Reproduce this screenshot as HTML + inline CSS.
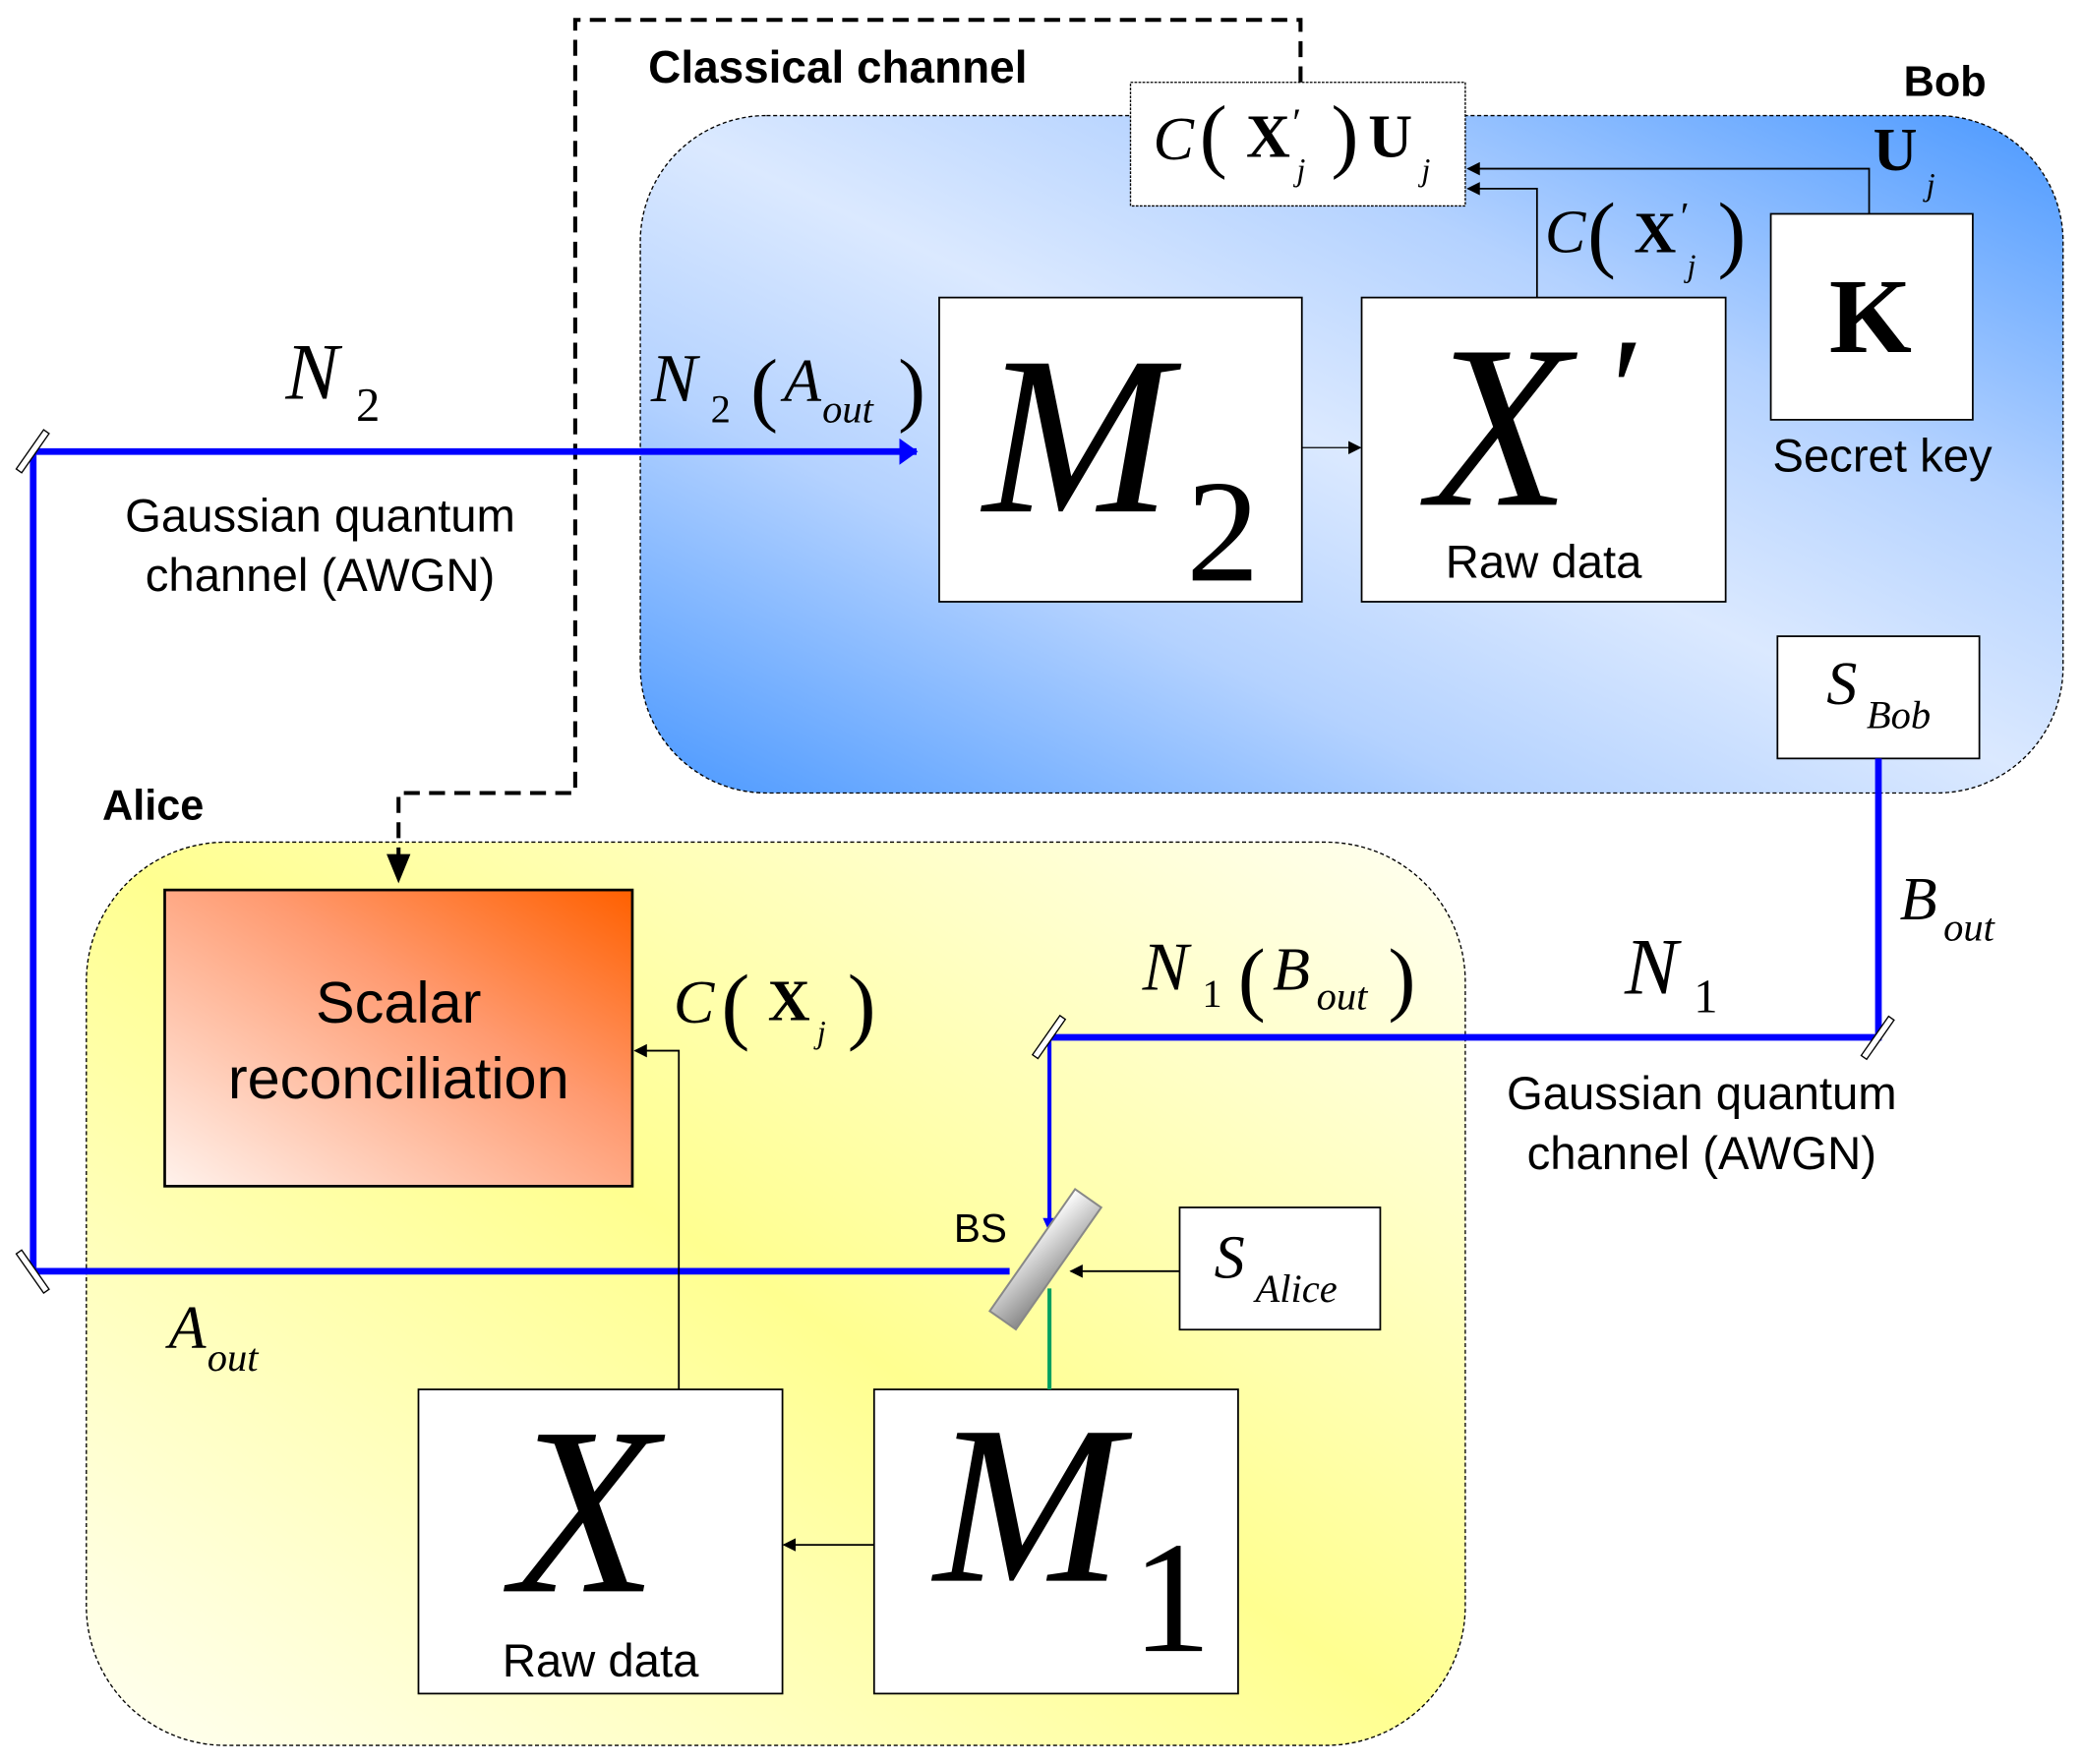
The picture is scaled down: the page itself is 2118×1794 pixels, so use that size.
<!DOCTYPE html>
<html><head><meta charset="utf-8"><style>html,body{margin:0;padding:0;background:#fff}svg{display:block}</style></head><body>
<svg width="2118" height="1794" viewBox="0 0 1568 1328" preserveAspectRatio="none" xmlns="http://www.w3.org/2000/svg">
<defs>
<linearGradient id="gb" x1="0" y1="1" x2="1" y2="0">
<stop offset="0" stop-color="#4a98ff"/><stop offset="0.3" stop-color="#b4d2ff"/><stop offset="0.5" stop-color="#dbe9ff"/><stop offset="0.7" stop-color="#b4d2ff"/><stop offset="1" stop-color="#4a98ff"/></linearGradient>
<linearGradient id="gy" x1="0" y1="1" x2="1" y2="0">
<stop offset="0" stop-color="#fffff2"/><stop offset="0.5" stop-color="#ffff90"/><stop offset="1" stop-color="#fffff2"/></linearGradient>
<linearGradient id="go" x1="0" y1="1" x2="1" y2="0">
<stop offset="0" stop-color="#fff2ec"/><stop offset="0.6" stop-color="#ff9a70"/><stop offset="1" stop-color="#ff6000"/></linearGradient>
<linearGradient id="gs" x1="0" y1="0" x2="1" y2="1"><stop offset="0" stop-color="#fff"/><stop offset="1" stop-color="#888"/></linearGradient>
<marker id="ab" markerWidth="10" markerHeight="10" refX="9" refY="5" orient="auto" markerUnits="userSpaceOnUse"><path d="M0,0 L10,5 L0,10 z" fill="#000"/></marker>
<marker id="ablue" markerWidth="14" markerHeight="20" refX="13" refY="10" orient="auto" markerUnits="userSpaceOnUse"><path d="M0,0 L14,10 L0,20 z" fill="#0000ff"/></marker>
</defs>
<g font-family="Liberation Sans, sans-serif">
<rect x="482" y="87" width="1071" height="510" rx="95" fill="url(#gb)" stroke="#000" stroke-width="1" stroke-dasharray="3,2"/>
<rect x="65" y="634" width="1038" height="680" rx="105" fill="url(#gy)" stroke="#000" stroke-width="1" stroke-dasharray="3,2"/>

<path d="M979,62 V15 H433 V597 H300 V660" fill="none" stroke="#000" stroke-width="3" stroke-dasharray="12,7"/>
<path d="M291,643 L309,643 L300,665 z" fill="#000"/>

<text x="488" y="62" font-size="34" font-weight="bold">Classical channel</text>
<text x="1433" y="72" font-size="32" font-weight="bold">Bob</text>
<text x="77" y="617" font-size="32" font-weight="bold">Alice</text>

<rect x="851" y="62" width="252" height="93" fill="#fff" stroke="#000" stroke-width="1" stroke-dasharray="2,1"/>
<g font-family="Liberation Serif, serif" font-size="46">
<text x="868" y="120" font-style="italic">C</text>
<text x="903" y="122" font-size="62" font-weight="200">(</text>
<text x="938" y="118" font-weight="bold">X</text><text x="973" y="102" font-size="30">′</text><text x="976" y="136" font-size="24" font-style="italic">j</text>
<text x="1002" y="122" font-size="62">)</text>
<text x="1030" y="118" font-weight="bold">U</text><text x="1070" y="136" font-size="24" font-style="italic">j</text>
</g>

<path d="M1407,161 V127 H1105" fill="none" stroke="#000" stroke-width="1.3" marker-end="url(#ab)"/>
<path d="M1157,224 V142 H1105" fill="none" stroke="#000" stroke-width="1.3" marker-end="url(#ab)"/>
<g font-family="Liberation Serif, serif">
<text x="1410" y="128" font-size="46" font-weight="bold">U</text><text x="1450" y="147" font-size="24" font-style="italic">j</text>
<text x="1163" y="190" font-size="46" font-style="italic">C</text>
<text x="1195" y="197" font-size="64">(</text>
<text x="1230" y="190" font-size="44" font-weight="bold">X</text><text x="1265" y="173" font-size="30">′</text><text x="1270" y="208" font-size="24" font-style="italic">j</text>
<text x="1293" y="197" font-size="64">)</text>
</g>

<rect x="707" y="224" width="273" height="229" fill="#fff" stroke="#000" stroke-width="1.3"/>
<rect x="1025" y="224" width="274" height="229" fill="#fff" stroke="#000" stroke-width="1.3"/>
<rect x="1333" y="161" width="152" height="155" fill="#fff" stroke="#000" stroke-width="1.3"/>
<rect x="1338" y="479" width="152" height="92" fill="#fff" stroke="#000" stroke-width="1.3"/>
<rect x="888" y="909" width="151" height="92" fill="#fff" stroke="#000" stroke-width="1.3"/>
<rect x="124" y="670" width="352" height="223" fill="url(#go)" stroke="#000" stroke-width="2"/>
<rect x="315" y="1046" width="274" height="229" fill="#fff" stroke="#000" stroke-width="1.3"/>
<rect x="658" y="1046" width="274" height="229" fill="#fff" stroke="#000" stroke-width="1.3"/>
<line x1="980" y1="337" x2="1024" y2="337" stroke="#000" stroke-width="1" marker-end="url(#ab)"/>

<g font-family="Liberation Serif, serif" font-style="italic">
<text x="740" y="385" font-size="170">M</text>
<text x="893" y="437" font-size="110" font-style="normal">2</text>
<text x="1075" y="380" font-size="175">X</text>
<text x="1213" y="330" font-size="110" font-style="normal">′</text>
<text x="1375" y="530" font-size="46">S</text><text x="1405" y="548" font-size="30">Bob</text>
<text x="1430" y="692" font-size="46">B</text><text x="1463" y="708" font-size="30">out</text>
<text x="1223" y="748" font-size="60">N</text><text x="1275" y="762" font-size="36" font-style="normal">1</text>
<text x="860" y="745" font-size="52">N</text><text x="905" y="758" font-size="30" font-style="normal">1</text>
<text x="932" y="757" font-size="62" font-style="normal">(</text>
<text x="958" y="745" font-size="46">B</text><text x="991" y="760" font-size="30">out</text>
<text x="1045" y="757" font-size="62" font-style="normal">)</text>
<text x="215" y="300" font-size="60">N</text><text x="268" y="317" font-size="36" font-style="normal">2</text>
<text x="490" y="302" font-size="52">N</text><text x="535" y="318" font-size="30" font-style="normal">2</text>
<text x="565" y="313" font-size="62" font-style="normal">(</text>
<text x="590" y="302" font-size="46">A</text><text x="619" y="318" font-size="30">out</text>
<text x="676" y="313" font-size="62" font-style="normal">)</text>
<text x="507" y="770" font-size="46">C</text>
<text x="543" y="778" font-size="64" font-style="normal">(</text>
<text x="578" y="768" font-size="44" font-style="normal" font-weight="bold">X</text><text x="615" y="785" font-size="24">j</text>
<text x="638" y="778" font-size="64" font-style="normal">)</text>
<text x="914" y="962" font-size="46">S</text><text x="945" y="980" font-size="30">Alice</text>
<text x="127" y="1015" font-size="46">A</text><text x="156" y="1032" font-size="30">out</text>
<text x="385" y="1198" font-size="180">X</text>
<text x="703" y="1190" font-size="170">M</text>
</g>
<text x="852" y="1243" font-family="Liberation Serif, serif" font-size="120">1</text>
<text x="1408" y="265" font-family="Liberation Serif, serif" font-size="80" font-weight="bold" text-anchor="middle">K</text>

<g font-size="35" text-anchor="middle">
<text x="1417" y="355">Secret key</text>
<text x="1162" y="435">Raw data</text>
<text x="241" y="400">Gaussian quantum</text>
<text x="241" y="445">channel (AWGN)</text>
<text x="1281" y="835">Gaussian quantum</text>
<text x="1281" y="880">channel (AWGN)</text>
<text x="452" y="1262">Raw data</text>
<text x="300" y="770" font-size="44">Scalar</text>
<text x="300" y="827" font-size="44">reconciliation</text>
</g>
<text x="718" y="935" font-size="30">BS</text>

<g stroke="#0000ff" stroke-width="5" fill="none">
<path d="M25,957 V340 H690" marker-end="url(#ablue)"/>
<path d="M25,957 H760"/>
<path d="M1414,571 V781 H790"/>
</g>
<path d="M790,781 V925" stroke="#0000ff" stroke-width="3" fill="none"/>
<path d="M785,917 L795,917 L790,928 z" fill="#0000ff"/>
<line x1="790" y1="970" x2="790" y2="1046" stroke="#00a060" stroke-width="3"/>

<g fill="#fff" stroke="#000" stroke-width="1">
<rect x="22" y="322" width="5" height="36" transform="rotate(35 25 340)"/>
<rect x="22" y="939" width="5" height="36" transform="rotate(-35 25 957)"/>
<rect x="787" y="763" width="5" height="36" transform="rotate(35 790 781)"/>
<rect x="1411" y="763" width="5" height="36" transform="rotate(35 1413 781)"/>
</g>
<rect x="775" y="892" width="24" height="112" fill="url(#gs)" stroke="#888" stroke-width="1.5" transform="rotate(35 787 948)"/>

<line x1="888" y1="957" x2="806" y2="957" stroke="#000" stroke-width="1.3" marker-end="url(#ab)"/>
<path d="M511,1046 V791 H478" fill="none" stroke="#000" stroke-width="1.3" marker-end="url(#ab)"/>
<line x1="658" y1="1163" x2="590" y2="1163" stroke="#000" stroke-width="1.3" marker-end="url(#ab)"/>
</g>
</svg>
</body></html>
